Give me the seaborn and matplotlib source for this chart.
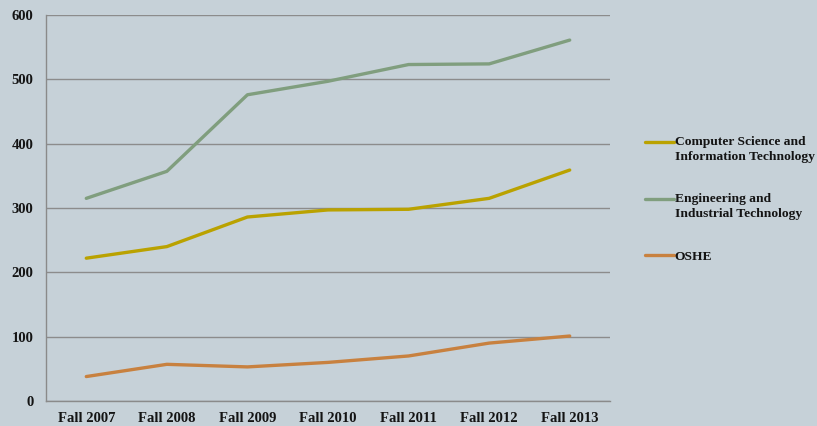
import matplotlib
matplotlib.use("Agg")
import matplotlib.pyplot as plt
import seaborn as sns
import pandas as pd
from matplotlib.ticker import FixedLocator
from matplotlib.legend_handler import HandlerLine2D

terms = ["Fall 2007", "Fall 2008", "Fall 2009", "Fall 2010", "Fall 2011", "Fall 2012", "Fall 2013"]
cs_it = [222, 240, 286, 297, 298, 315, 359]
eng_it = [315, 357, 476, 497, 523, 524, 561]
oshe = [38, 57, 53, 60, 70, 90, 101]
series_names = ["Computer Science and\nInformation Technology",
                "Engineering and\nIndustrial Technology",
                "OSHE"]
colors = ["#baa200", "#809e7e", "#c8813f"]
y_ticks = [0, 100, 200, 300, 400, 500, 600]

rows = []
for name, vals in zip(series_names, [cs_it, eng_it, oshe]):
    for i, (t, v) in enumerate(zip(terms, vals)):
        rows.append({"term": t, "idx": i, "value": v, "series": name})
df = pd.DataFrame(rows)

bg = "#c6d1d8"
txt = "#141414"
sns.set_theme(style="white")
plt.rcParams["font.family"] = ["Liberation Serif", "DejaVu Serif"]
plt.rcParams["font.weight"] = "bold"

fig = plt.figure(figsize=(8.17, 4.26), dpi=100, facecolor=bg)
ax = fig.add_axes([46/817, 1-401/426, (610-46)/817, (401-15)/426])
ax.set_facecolor(bg)

sns.lineplot(data=df, x="idx", y="value", hue="series", hue_order=series_names,
             palette=colors, linewidth=2.4, ax=ax, legend=True)

ax.set_xlim(-0.5, len(terms) - 0.5)
ax.set_ylim(0, 600)
ax.set_xticks(range(len(terms)))
ax.set_xticklabels(terms, fontsize=10.5, fontweight="bold", color=txt)
ax.xaxis.set_minor_locator(FixedLocator([i - 0.5 for i in range(len(terms) + 1)]))
ax.tick_params(axis="x", which="major", length=0, pad=8)
ax.tick_params(axis="x", which="minor", length=4, width=1, color="#8a8a8a", direction="out")
ax.set_yticks(y_ticks)
ax.set_yticklabels([str(v) for v in y_ticks], fontsize=10.5, fontweight="bold", color=txt)
ax.tick_params(axis="y", length=4, width=1, color="#8a8a8a", direction="out", pad=5)
ax.grid(axis="y", color="#8c8c8c", linewidth=1)
ax.set_axisbelow(True)
for s in ["top", "right"]:
    ax.spines[s].set_visible(False)
for s in ["left", "bottom"]:
    ax.spines[s].set_color("#8a8a8a")
    ax.spines[s].set_linewidth(1)
ax.set_xlabel("")
ax.set_ylabel("")


class TopLineHandler(HandlerLine2D):
    """Align the legend line with the first text line of a multi-line label."""
    def __init__(self, shift=0.0, **kw):
        super().__init__(**kw)
        self.shift = shift

    def create_artists(self, legend, orig_handle, xdescent, ydescent,
                       width, height, fontsize, trans):
        arts = super().create_artists(legend, orig_handle, xdescent, ydescent,
                                      width, height, fontsize, trans)
        for a in arts:
            yd = a.get_ydata()
            a.set_ydata([y + self.shift for y in yd])
        return arts


handles, labels = ax.get_legend_handles_labels()
ax.get_legend().remove()
hmap = {}
for h, l in zip(handles, labels):
    hmap[h] = TopLineHandler(shift=5.3 if "\n" in l else 0.0)
leg = fig.legend(handles, labels, loc="upper left", bbox_to_anchor=(640/817, 1-131/426),
                 frameon=False, handlelength=2.1, handletextpad=0.08,
                 labelspacing=2.25, fontsize=9.7, borderaxespad=0, handler_map=hmap)
for t in leg.get_texts():
    t.set_fontweight("bold")
    t.set_color(txt)
    t.set_linespacing(1.3)

fig.savefig("out.png", dpi=100, facecolor=bg)
